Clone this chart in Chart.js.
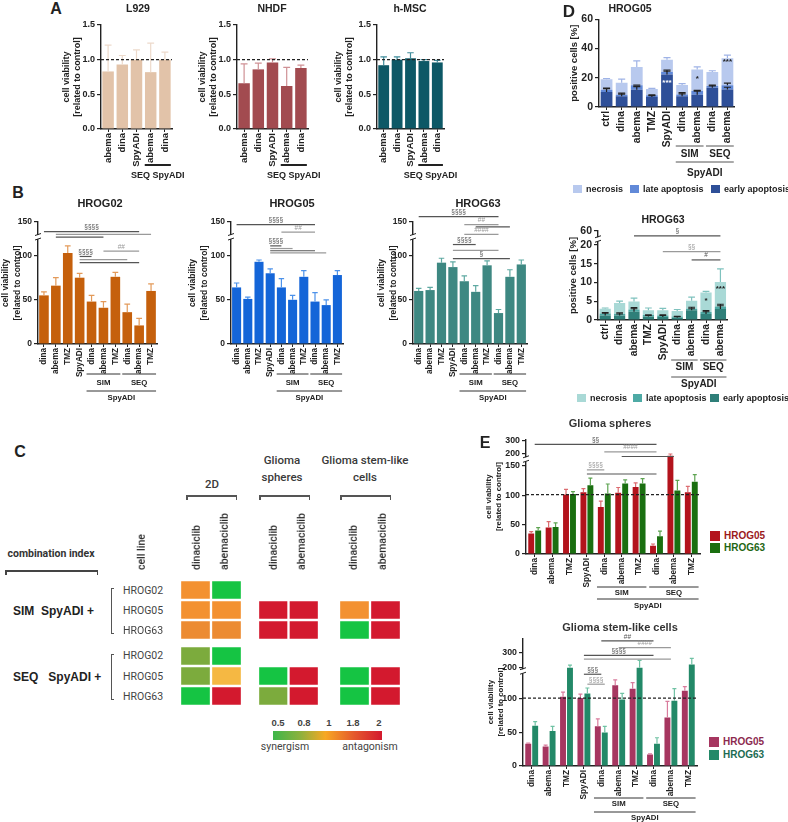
<!DOCTYPE html>
<html>
<head>
<meta charset="utf-8">
<script src="https://cdn.jsdelivr.net/npm/chart.js@4.4.1/dist/chart.umd.min.js"></script>
<style>
  body { margin: 0; width: 788px; height: 822px; position: relative; overflow: hidden; background: #fff;
         font-family: 'Liberation Sans', Arial, sans-serif; }
  canvas { position: absolute; }
  .t { position: absolute; white-space: nowrap; color: #222; line-height: 1; }
  .ln { position: absolute; background: #222; }
</style>
</head>
<body>
<script>
// ---- panel A : normal cells ----
var catsA = ['abema', 'dina', 'SpyADI', 'abema', 'dina'];
var l929 = [0.83, 0.93, 1.0, 0.82, 1.0];
var l929Err = [1.21, 1.06, 1.14, 1.24, 1.11];
var nhdf = [0.66, 0.86, 0.96, 0.62, 0.88];
var nhdfErr = [0.94, 0.95, 1.01, 0.89, 0.92];
var hmsc = [0.92, 1.0, 1.02, 0.98, 0.96];
var hmscErr = [1.04, 1.04, 1.10, 1.0, 0.99];
var ticksA = [0, 0.5, 1.0, 1.5];

// ---- panel B : 2D viability ----
var catsB = ['dina', 'abema', 'TMZ', 'SpyADI', 'dina', 'abema', 'TMZ', 'dina', 'abema', 'TMZ'];
var b02 = [55, 66, 103, 75, 48, 41, 76, 36, 21, 60];
var b02Err = [59, 75, 111, 80, 55, 48, 81, 45, 29, 68];
var b05 = [64, 51, 93, 80, 64, 50, 76, 48, 44, 78];
var b05Err = [69, 53, 95, 85, 74, 55, 83, 58, 50, 83];
var b63 = [60, 61, 92, 87, 71, 59, 89, 35, 76, 90];
var b63Err = [63, 64, 97, 93, 77, 66, 94, 39, 84, 95];
// broken axis: 138 sits where "150" is printed
var ticksB = [0, 50, 100, 138];
var tickNamesB = {138: '150'};
// [from, to, y, label]
var sigB02 = [[0, 8, 127, '§§§§'], [1, 9, 124, ''], [1, 5, 121, ''], [5, 8, 105, '##'], [3, 4, 99, '§§§§'], [3, 7, 95.5, ''], [3, 8, 92, '']];
var sigB05 = [[0, 7, 135, '§§§§'], [4, 7, 126.5, '##'], [3, 4, 111, '§§§§'], [3, 5, 108, ''], [3, 7, 105.5, ''], [3, 8, 103, '']];
var sigB63 = [[0, 7, 144, '§§§§'], [4, 7, 135, '##'], [5, 8, 132.5, ''], [4, 7, 124, '####'], [3, 5, 112.5, '§§§§'], [3, 7, 106, ''], [3, 8, 96.5, '§']];

// ---- panel C : combination index ----
var ciCols = ['dinaciclib', 'abemaciclib'];
var ciRows = ['HROG02', 'HROG05', 'HROG63'];
var ci2dSim = [[1.4, 0.5], [1.4, 1.4], [1.5, 1.5]];
var ci2dSeq = [[0.7, 0.5], [0.7, 1.1], [0.5, 1.9]];
var ciSphSim = [[null, null], [1.9, 1.9], [1.9, 1.9]];
var ciSphSeq = [[null, null], [0.5, 1.9], [0.7, 1.9]];
var ciStemSim = [[null, null], [1.4, 1.9], [0.5, 1.9]];
var ciStemSeq = [[null, null], [0.5, 1.9], [0.5, 1.9]];

// ---- panel D : apoptosis ----
var catsD = ['ctrl', 'dina', 'abema', 'TMZ', 'SpyADI', 'dina', 'abema', 'dina', 'abema'];
var d05Early = [10.2, 7.3, 11.8, 6.8, 22.3, 7.3, 8.4, 13.2, 12.0];
var d05Late = [1.6, 1.1, 3.0, 1.2, 1.7, 1.3, 2.5, 1.1, 2.8];
var d05Nec = [7.1, 8.2, 12.5, 4.3, 8.3, 6.4, 14.8, 9.6, 18.6];
var d05EarlyErr = [12.6, 8.8, 14.0, 7.8, 24.5, 9.0, 10.8, 14.5, 13.5];
var d05LateErr = [13.0, 9.5, 15.0, 8.3, 25.3, 9.8, 11.4, 15.0, 16.4];
var d05TotErr = [19.5, 19.1, 31.5, 12.8, 33.8, 16.0, 27.5, 24.8, 35.5];
var ticksD05 = [0, 20, 40, 60];
var d63Early = [1.2, 1.2, 2.2, 0.9, 0.8, 0.6, 2.6, 1.6, 2.9];
var d63Late = [0.5, 0.4, 0.6, 0.4, 0.4, 0.3, 0.4, 0.5, 0.7];
var d63Nec = [1.3, 2.9, 2.1, 1.3, 1.4, 1.5, 2.1, 5.2, 6.5];
var d63EarlyErr = [1.8, 1.6, 3.0, 1.2, 1.2, 0.9, 3.0, 2.2, 3.8];
var d63LateErr = [2.0, 1.9, 3.3, 1.4, 1.4, 1.0, 3.4, 2.5, 4.2];
var d63TotErr = [3.2, 5.0, 5.8, 3.2, 3.1, 2.8, 6.1, 7.6, 13.6];
var ticksD63 = [0, 5, 10, 15, 20, 23.7];
var tickNamesD63 = {23.7: '60'};
var sigD63 = [[2, 8, 22.4, '§'], [4, 8, 18.2, '§§'], [6, 8, 16, '#']];

// ---- panel E : 3D viability ----
var sph05 = [35, 45, 101, 105, 80, 104, 114, 14, 167, 105];
var sph05Err = [38, 55, 110, 111, 90, 113, 121, 17, 170, 115];
var sph63 = [40, 46, 102, 117, 103, 120, 120, 30, 108, 123];
var sph63Err = [45, 53, 106, 129, 119, 126, 128, 39, 125, 135];
var ticksSph = [0, 50, 100, 150, 170, 192];
var tickNamesSph = {170: '200', 192: '300'};
var sigSph = [[0, 7, 186.5, '§§'], [4, 7, 173.6, '####'], [5, 8, 165.7, ''], [3, 4, 143, '§§§§'], [3, 7, 136, '']];
var stem05 = [33, 29, 103, 101, 59, 120, 115, 17, 72, 112];
var stem05Err = [34, 31, 110, 107, 70, 128, 124, 18, 96, 118];
var stem63 = [60, 52, 146, 108, 50, 99, 146, 33, 97, 151];
var stem63Err = [66, 59, 150, 116, 59, 108, 157, 42, 115, 160];
var ticksStem = [0, 50, 100, 147, 168];
var tickNamesStem = {147: '200', 168: '300'};
var sigStem = [[4, 7, 186, '##'], [5, 8, 176, '####'], [3, 7, 164.7, '§§§§'], [3, 8, 159, ''], [3, 4, 136.5, '§§§'], [3.2, 4.2, 121.7, '§§§§']];

var groupsA = [[3, 4, 'SEQ SpyADI', 1]];
var groupsB = [[4, 6, 'SIM', 1], [7, 9, 'SEQ', 1], [4, 9, 'SpyADI', 2]];
var groupsD = [[5, 6, 'SIM', 1], [7, 8, 'SEQ', 1], [5, 8, 'SpyADI', 2]];

Chart.defaults.font.family = "'Liberation Sans', Arial, sans-serif";
Chart.defaults.color = '#222';

// html helpers
function txt(s, x, y, st) {
  var d = document.createElement('div');
  d.className = 't';
  d.textContent = s;
  d.style.left = x + 'px';
  d.style.top = y + 'px';
  d.style.transform = 'translate(-50%,-50%)';
  Object.assign(d.style, st || {});
  document.body.appendChild(d);
  return d;
}
function vtxt(s, x, y, st) {
  // vertical text, reading upward from (x,y)
  return txt(s, x, y, Object.assign({transformOrigin: '0 0', transform: 'rotate(-90deg) translateY(-50%)',
                                     willChange: 'transform'}, st));
}
function line(x, y, w, h, col) {
  var d = document.createElement('div');
  d.className = 'ln';
  d.style.left = x + 'px'; d.style.top = y + 'px';
  d.style.width = w + 'px'; d.style.height = h + 'px';
  if (col) d.style.background = col;
  document.body.appendChild(d);
}
function bracketDown(x1, x2, y, col) {
  line(x1, y, x2 - x1, 1.5, col);
  line(x1, y, 1.5, 5, col);
  line(x2 - 1.5, y, 1.5, 5, col);
}

// draws error bars, dashed line, significance bars, group lines under the axis
function deco(o) {
  return {
    id: 'deco',
    afterDraw: function(chart) {
      var ctx = chart.ctx, xs = chart.scales.x, ys = chart.scales.y, ca = chart.chartArea;
      ctx.save();
      chart.data.datasets.forEach(function(ds, i) {
        if (!ds.err) return;
        chart.getDatasetMeta(i).data.forEach(function(bar, j) {
          var e = ds.err[j];
          if (e == null) return;
          var yt = ys.getPixelForValue(e), cw = Math.max(bar.width * 0.3, 2);
          ctx.strokeStyle = ds.errColor;
          ctx.lineWidth = 1.2;
          ctx.beginPath();
          ctx.moveTo(bar.x, bar.y); ctx.lineTo(bar.x, yt);
          ctx.moveTo(bar.x - cw, yt); ctx.lineTo(bar.x + cw, yt);
          ctx.stroke();
        });
      });
      if (o.ref != null) {
        var yr = ys.getPixelForValue(o.ref);
        ctx.strokeStyle = '#222'; ctx.lineWidth = 1.2; ctx.setLineDash([3, 2]);
        ctx.beginPath(); ctx.moveTo(ca.left, yr); ctx.lineTo(ca.right, yr); ctx.stroke();
        ctx.setLineDash([]);
      }
      if (o.brk != null) {
        var yb = ys.getPixelForValue(o.brk), xb = ca.left;
        ctx.fillStyle = '#fff'; ctx.fillRect(xb - 4, yb - 2, 8, 4);
        ctx.strokeStyle = '#222'; ctx.lineWidth = 1;
        ctx.beginPath();
        ctx.moveTo(xb - 3, yb - 1.5); ctx.lineTo(xb + 3, yb - 3.5);
        ctx.moveTo(xb - 3, yb + 3); ctx.lineTo(xb + 3, yb + 1);
        ctx.stroke();
      }
      ctx.textAlign = 'center';
      ctx.textBaseline = 'bottom';
      (o.sig || []).forEach(function(s, k) {
        var y = ys.getPixelForValue(s[2]);
        var x1 = xs.getPixelForValue(s[0]), x2 = xs.getPixelForValue(s[1]);
        var col = k % 2 ? '#9a9a9a' : '#555';
        ctx.strokeStyle = col; ctx.lineWidth = 1.2;
        ctx.beginPath(); ctx.moveTo(x1, y); ctx.lineTo(x2, y); ctx.stroke();
        if (s[3]) {
          ctx.fillStyle = col;
          ctx.font = '6.5px "Liberation Sans"';
          ctx.fillText(s[3], (x1 + x2) / 2, y - 1);
        }
      });
      (o.marks || []).forEach(function(m) {
        ctx.fillStyle = m[3] || '#222';
        ctx.font = 'bold 8px "Liberation Sans"';
        ctx.textBaseline = 'middle';
        ctx.fillText(m[2], xs.getPixelForValue(m[0]), ys.getPixelForValue(m[1]));
      });
      if (o.groups) {
        var half = (xs.getPixelForValue(1) - xs.getPixelForValue(0)) * 0.42, g = o.gy;
        ctx.textBaseline = 'middle';
        o.groups.forEach(function(gr) {
          var x1 = xs.getPixelForValue(gr[0]) - half, x2 = xs.getPixelForValue(gr[1]) + half;
          var yl = xs.bottom + (gr[3] === 1 ? g[0] : g[2]);
          var yt = xs.bottom + (gr[3] === 1 ? g[1] : g[3]);
          ctx.strokeStyle = o.glc || '#333'; ctx.lineWidth = o.glw || 1;
          ctx.beginPath(); ctx.moveTo(x1, yl); ctx.lineTo(x2, yl); ctx.stroke();
          ctx.fillStyle = '#222';
          ctx.font = 'bold ' + o.gfs + 'px "Liberation Sans"';
          ctx.fillText(gr[2], (x1 + x2) / 2, yt);
        });
      }
      ctx.restore();
    }
  };
}

function barChart(o) {
  var l = o.box[0], t = o.box[1], r = o.box[2], b = o.box[3];
  var padR = o.padR || 6;
  var W = r - l + o.yW + padR;
  var H = b - t + o.padT + o.xH + o.padB;
  var cv = document.createElement('canvas');
  cv.width = W; cv.height = H;
  cv.style.left = (l - o.yW) + 'px';
  cv.style.top = (t - o.padT) + 'px';
  cv.style.width = W + 'px';
  cv.style.height = H + 'px';
  document.body.appendChild(cv);
  var names = o.tickNames || {};
  return new Chart(cv, {
    type: 'bar',
    data: {labels: o.labels, datasets: o.datasets},
    options: {
      responsive: false,
      animation: false,
      layout: {padding: {top: o.padT, right: padR, bottom: o.padB, left: 0}},
      plugins: {legend: {display: false}, tooltip: {enabled: false}},
      scales: {
        x: {
          stacked: !!o.stacked,
          grid: {offset: false, drawOnChartArea: false, tickLength: 3, color: '#222', lineWidth: 1},
          border: {color: '#222', width: 1.4},
          ticks: {autoSkip: false, maxRotation: 90, minRotation: 90, padding: 1, color: '#222',
                  font: {size: o.fs, weight: 'bold'}},
          afterFit: function(s) { s.height = o.xH; }
        },
        y: {
          stacked: !!o.stacked,
          min: 0, max: o.max,
          grid: {drawOnChartArea: false, tickLength: 4, color: '#222', lineWidth: 1.2},
          border: {color: '#222', width: 1.4},
          afterBuildTicks: function(s) { s.ticks = o.ticks.map(function(v) { return {value: v}; }); },
          ticks: {padding: 2, color: '#222', font: {size: o.yfs || o.fs, weight: 'bold'},
                  callback: function(v) { return names[v] || (o.dec ? v.toFixed(1) : v); }},
          title: {display: true, text: o.yTitle, padding: 0, color: '#222',
                  font: {size: o.tfs, weight: 'bold', lineHeight: o.tlh || 1.2}},
          afterFit: function(s) { s.width = o.yW; }
        }
      }
    },
    plugins: [deco(o)]
  });
}

function simple(vals, err, col, ecol) {
  return {data: vals, err: err, backgroundColor: col, errColor: ecol, barPercentage: 0.85, categoryPercentage: 0.95};
}

var viab = ['cell viability', '[related to control]'];

// ---- A ----
var aOpt = {labels: catsA, max: 1.5, ticks: ticksA, dec: true, ref: 1.0, yTitle: viab, fs: 9.5, yfs: 9, tfs: 9, tlh: 1.2,
            padT: 8, padR: 16, xH: 38, padB: 16, groups: groupsA, gy: [-2, 9, -2, 9], gfs: 9, glw: 2, glc: '#222'};
barChart(Object.assign({box: [101, 25, 172, 129], yW: 40, datasets: [simple(l929, l929Err, '#e2c3a9', '#eddacb')]}, aOpt));
barChart(Object.assign({box: [237, 25, 308, 129], yW: 40, datasets: [simple(nhdf, nhdfErr, '#a24b50', '#cf9195')]}, aOpt));
barChart(Object.assign({box: [377, 25, 444, 129], yW: 44, datasets: [simple(hmsc, hmscErr, '#0d5866', '#3f8c9b')]}, aOpt));

// ---- B ----
var bOpt = {labels: catsB, max: 138, ticks: ticksB, tickNames: tickNamesB, brk: 121, yTitle: viab, fs: 8.2, yfs: 8.5, tfs: 8.5, tlh: 1.4,
            padT: 14, xH: 34, padB: 26, groups: groupsB, gy: [-4, 5, 13, 20], gfs: 7.8};
barChart(Object.assign({box: [38, 222, 157, 344], yW: 38, sig: sigB02, datasets: [simple(b02, b02Err, '#c5600c', '#e39a5a')]}, bOpt));
barChart(Object.assign({box: [231, 222, 343, 344], yW: 44, sig: sigB05, datasets: [simple(b05, b05Err, '#1465d8', '#4d92ea')]}, bOpt));
barChart(Object.assign({box: [413, 222, 527, 344], yW: 37, sig: sigB63, datasets: [simple(b63, b63Err, '#3e8882', '#5fa9a2')]}, bOpt));

// ---- D ----
function stackSets(early, late, nec, eErr, lErr, tErr, cols) {
  var base = {barPercentage: 0.82, categoryPercentage: 0.95};
  return [
    Object.assign({data: early, err: eErr, backgroundColor: cols[0], errColor: '#222'}, base),
    Object.assign({data: late, err: lErr, backgroundColor: cols[1], errColor: '#222'}, base),
    Object.assign({data: nec, err: tErr, backgroundColor: cols[2], errColor: cols[3]}, base)
  ];
}
var dOpt = {labels: catsD, stacked: true, yTitle: 'positive cells [%]', fs: 10.2, yfs: 10.5, tfs: 9.5,
            groups: groupsD, gfs: 10, glc: '#555'};
barChart(Object.assign({box: [599, 19, 735, 107], yW: 30, padT: 8, xH: 42, padB: 30, max: 60, ticks: ticksD05,
  gy: [-3, 5, 13, 24],
  marks: [[4, 16.5, '***', '#fff'], [6, 19, '*'], [8, 31, '***']],
  datasets: stackSets(d05Early, d05Late, d05Nec, d05EarlyErr, d05LateErr, d05TotErr, ['#2e4f98', '#6189d8', '#b8c9ee', '#9fb3e6'])}, dOpt));
barChart(Object.assign({box: [598, 231, 728, 320], yW: 30, padT: 14, xH: 42, padB: 28, max: 23.7, ticks: ticksD63,
  tickNames: tickNamesD63, brk: 21.5, sig: sigD63, gy: [-2, 5, 15, 22],
  marks: [[7, 5, '*'], [8, 8.3, '***']],
  datasets: stackSets(d63Early, d63Late, d63Nec, d63EarlyErr, d63LateErr, d63TotErr, ['#2f7f79', '#4eaaa5', '#a9d9d6', '#7fc2be'])}, dOpt));

// ---- E ----
function pair(v5, e5, v63, e63, cols) {
  var base = {barPercentage: 0.85, categoryPercentage: 0.8};
  return [
    Object.assign({data: v5, err: e5, backgroundColor: cols[0], errColor: cols[1]}, base),
    Object.assign({data: v63, err: e63, backgroundColor: cols[2], errColor: cols[3]}, base)
  ];
}
var eOpt = {labels: catsB, yTitle: viab, fs: 8.3, yfs: 8.8, tfs: 7.8, tlh: 1.25, padT: 6, padB: 22, ref: 101,
            groups: groupsB, gfs: 7.8, glc: '#333'};
barChart(Object.assign({box: [526, 438, 700, 554], yW: 42, xH: 34, max: 195, ticks: ticksSph, tickNames: tickNamesSph,
  brk: 161, sig: sigSph, gy: [-1, 5, 11, 18],
  datasets: pair(sph05, sph05Err, sph63, sph63Err, ['#b3131c', '#dc6c70', '#1a6f10', '#5ea452'])}, eOpt));
barChart(Object.assign({box: [523, 637, 697, 766], yW: 37, xH: 34, max: 190, ticks: ticksStem, tickNames: tickNamesStem,
  brk: 141, sig: sigStem, gy: [-2, 4, 12, 18],
  datasets: pair(stem05, stem05Err, stem63, stem63Err, ['#a63660', '#d97c9d', '#238968', '#70c2a4'])}, eOpt));

// ---- C heatmap: each cell is a unit stacked bar coloured by its CI ----
function ciColor(v) {
  if (v == null) return 'rgba(0,0,0,0)';
  if (v < 0.6) return '#15c443';
  if (v < 0.9) return '#7cab3d';
  if (v < 1.25) return '#f5b843';
  if (v < 1.45) return '#f39131';
  if (v < 1.7) return '#ec8b32';
  return '#d3192e';
}
function heat(x1, x2, sim, seq) {
  var cv = document.createElement('canvas');
  var top = 580, H = 126, W = x2 - x1;
  cv.width = W; cv.height = H;
  cv.style.left = x1 + 'px'; cv.style.top = top + 'px';
  cv.style.width = W + 'px'; cv.style.height = H + 'px';
  document.body.appendChild(cv);
  // bottom-up: SEQ rows, spacer, SIM rows
  var rows = [seq[2], seq[1], seq[0], null, sim[2], sim[1], sim[0]];
  var sets = rows.map(function(r) {
    if (r === null) return {data: [0.3, 0.3], backgroundColor: 'rgba(0,0,0,0)', borderWidth: 0};
    return {data: [1, 1], backgroundColor: r.map(ciColor),
            borderColor: r.map(function(v) { return v == null ? 'rgba(0,0,0,0)' : '#fff'; }),
            borderWidth: 1.5, borderSkipped: false, barPercentage: 1, categoryPercentage: 1};
  });
  new Chart(cv, {
    type: 'bar',
    data: {labels: ciCols, datasets: sets},
    options: {
      responsive: false, animation: false,
      plugins: {legend: {display: false}, tooltip: {enabled: false}},
      scales: {x: {display: false, stacked: true}, y: {display: false, stacked: true, min: 0, max: 6.3}}
    }
  });
}
heat(180, 242, ci2dSim, ci2dSeq);
heat(258, 319, ciSphSim, ciSphSeq);
heat(339, 401, ciStemSim, ciStemSeq);

// ---- text ----
txt('A', 56, 9, {fontWeight: 'bold', fontSize: '16px'});
txt('B', 18, 193, {fontWeight: 'bold', fontSize: '16px'});
txt('C', 20, 452, {fontWeight: 'bold', fontSize: '16px'});
txt('D', 569, 11, {fontWeight: 'bold', fontSize: '17px'});
txt('E', 485, 443, {fontWeight: 'bold', fontSize: '16px'});

txt('L929', 138, 8, {fontWeight: 'bold', fontSize: '10.5px'});
txt('NHDF', 272, 8, {fontWeight: 'bold', fontSize: '10.5px'});
txt('h-MSC', 410, 8, {fontWeight: 'bold', fontSize: '10.5px'});
txt('HROG02', 100, 203, {fontWeight: 'bold', fontSize: '11px'});
txt('HROG05', 292, 203, {fontWeight: 'bold', fontSize: '11px'});
txt('HROG63', 478, 203, {fontWeight: 'bold', fontSize: '11px'});
txt('HROG05', 630, 8, {fontWeight: 'bold', fontSize: '10.5px'});
txt('HROG63', 663, 219, {fontWeight: 'bold', fontSize: '10.5px'});
txt('Glioma spheres', 610, 423, {fontWeight: 'bold', fontSize: '11px', color: '#333'});
txt('Glioma stem-like cells', 620, 627, {fontWeight: 'bold', fontSize: '11px', color: '#333'});

// legends D
function legItem(x, y, col, label, tcol, fs) {
  line(x, y - 4, 9, 8, col);
  txt(label, x + 13, y, {transform: 'translate(0,-50%)', fontWeight: 'bold', fontSize: (fs || 9) + 'px', color: tcol || '#222'});
}
legItem(573, 189, '#b8c9ee', 'necrosis');
legItem(630, 189, '#6189d8', 'late apoptosis');
legItem(711, 189, '#2e4f98', 'early apoptosis');
legItem(577, 398, '#a9d9d6', 'necrosis');
legItem(633, 398, '#4eaaa5', 'late apoptosis');
legItem(710, 398, '#2f7f79', 'early apoptosis');

// legends E
function legBig(x, y, col, label, tcol) {
  line(x, y - 5, 10, 10, col);
  txt(label, x + 14, y, {transform: 'translate(0,-50%)', fontWeight: 'bold', fontSize: '10px', color: tcol});
}
legBig(710, 536, '#b3131c', 'HROG05', '#9b1a1c');
legBig(710, 548, '#1a6f10', 'HROG63', '#1f6614');
legBig(709, 742, '#a63660', 'HROG05', '#8c2a4f');
legBig(709, 755, '#238968', 'HROG63', '#1c6b52');

// C labels
var R = {fontFamily: 'Roboto, sans-serif', color: '#3a3a3a', fontWeight: '500'};
txt('2D', 212, 485, Object.assign({fontSize: '11.5px'}, R));
txt('Glioma', 282, 461, Object.assign({fontSize: '11.5px'}, R));
txt('spheres', 282, 478, Object.assign({fontSize: '11.5px'}, R));
txt('Glioma stem-like', 365, 461, Object.assign({fontSize: '11.5px'}, R));
txt('cells', 365, 478, Object.assign({fontSize: '11.5px'}, R));
bracketDown(186, 237, 495, '#555');
bracketDown(259, 310, 495, '#555');
bracketDown(340, 391, 495, '#555');
[197, 225, 274, 302, 354, 383].forEach(function(x, i) {
  vtxt(ciCols[i % 2], x, 570, Object.assign({fontSize: '10.5px'}, R, {color: '#2a2a2a'}));
});
vtxt('cell line', 142, 570, Object.assign({fontSize: '10.5px'}, R, {color: '#2a2a2a'}));
txt('combination index', 51, 554, Object.assign({fontSize: '10.5px'}, R, {fontWeight: 'bold', color: '#333'}));
bracketDown(5, 98, 570, '#444');
[591, 611, 631, 656, 677, 697].forEach(function(y, i) {
  txt(ciRows[i % 3], 123, y, Object.assign({fontSize: '10.5px', transform: 'translate(0,-50%)'}, R, {fontWeight: '400', color: '#444'}));
});
function bracketLeft(x, y1, y2) {
  line(x, y1, 1.3, y2 - y1, '#555');
  line(x, y1, 3, 1.3, '#555');
  line(x, y2 - 1.3, 3, 1.3, '#555');
}
bracketLeft(111, 588, 634);
bracketLeft(111, 654, 700);
txt('SIM  SpyADI +', 13, 611, {transform: 'translate(0,-50%)', fontWeight: 'bold', fontSize: '12px', whiteSpace: 'pre'});
txt('SEQ   SpyADI +', 13, 677, {transform: 'translate(0,-50%)', fontWeight: 'bold', fontSize: '12px', whiteSpace: 'pre'});

// colour bar
var cb = document.createElement('div');
cb.style.cssText = 'position:absolute;left:273px;top:731px;width:109px;height:9px;' +
  'background:linear-gradient(to right,#3db64a 0%,#8cb13d 25%,#f7a823 48%,#e4572d 75%,#d3192e 100%);';
document.body.appendChild(cb);
[['0.5', 278], ['0.8', 304], ['1', 329], ['1.8', 353], ['2', 379]].forEach(function(p) {
  txt(p[0], p[1], 723, {fontSize: '9.5px', fontWeight: 'bold', color: '#444'});
});
txt('synergism', 285, 747, Object.assign({fontSize: '10.5px'}, R, {fontWeight: '400', color: '#444'}));
txt('antagonism', 370, 747, Object.assign({fontSize: '10.5px'}, R, {fontWeight: '400', color: '#444'}));
</script>
</body>
</html>
